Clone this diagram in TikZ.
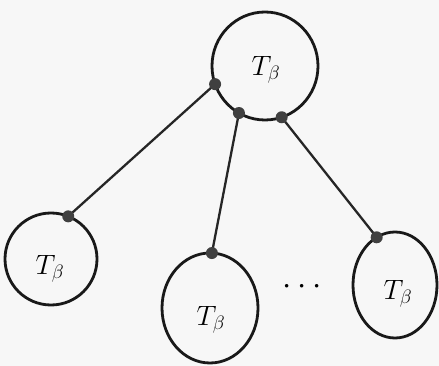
\documentclass[tikz,border=0pt]{standalone}
\usepackage{graphicx}
\usetikzlibrary{shapes.geometric}
\begin{document}
\begin{tikzpicture}[x=1pt,y=-1pt,
  tree/.style={ellipse,draw=black!90,line width=2.8pt,inner sep=0pt,outer sep=0pt},
  edge/.style={draw=black!85,line width=2.3pt},
  joint/.style={circle,fill=black!75,inner sep=0pt,minimum size=12pt},
  lbl/.style={font=\huge}]
\fill[black!3] (0,0) rectangle (439,366);
\useasboundingbox (0,0) rectangle (439,366);
\node[tree,minimum width=106pt,minimum height=108pt] (top) at (265,66) {};
\node[tree,minimum width=92pt,minimum height=92pt] (left) at (51,259) {};
\node[tree,minimum width=96pt,minimum height=110pt] (mid) at (210,308) {};
\node[tree,minimum width=84pt,minimum height=106pt] (right) at (395,285) {};
\node[lbl] (ltop) at (266,70) {\scalebox{1.35}{$T_\beta$}};
\node[lbl] (lleft) at (50,269) {\scalebox{1.35}{$T_\beta$}};
\node[lbl] (lmid) at (211,320) {\scalebox{1.35}{$T_\beta$}};
\node[lbl] (lright) at (398,294) {\scalebox{1.35}{$T_\beta$}};
\node[font=\huge] (dots) at (302,287) {\scalebox{1.6}{$\cdots$}};
\draw[edge] (top.200) -- (left.68);
\draw[edge] (top.241) -- (mid.88);
\draw[edge] (top.288) -- (right.111);
\node[joint] (j1) at (top.200) {};
\node[joint] (j2) at (top.241) {};
\node[joint] (j3) at (top.288) {};
\node[joint] (j4) at (left.68) {};
\node[joint] (j5) at (mid.88) {};
\node[joint] (j6) at (right.111) {};
\end{tikzpicture}
\end{document}
